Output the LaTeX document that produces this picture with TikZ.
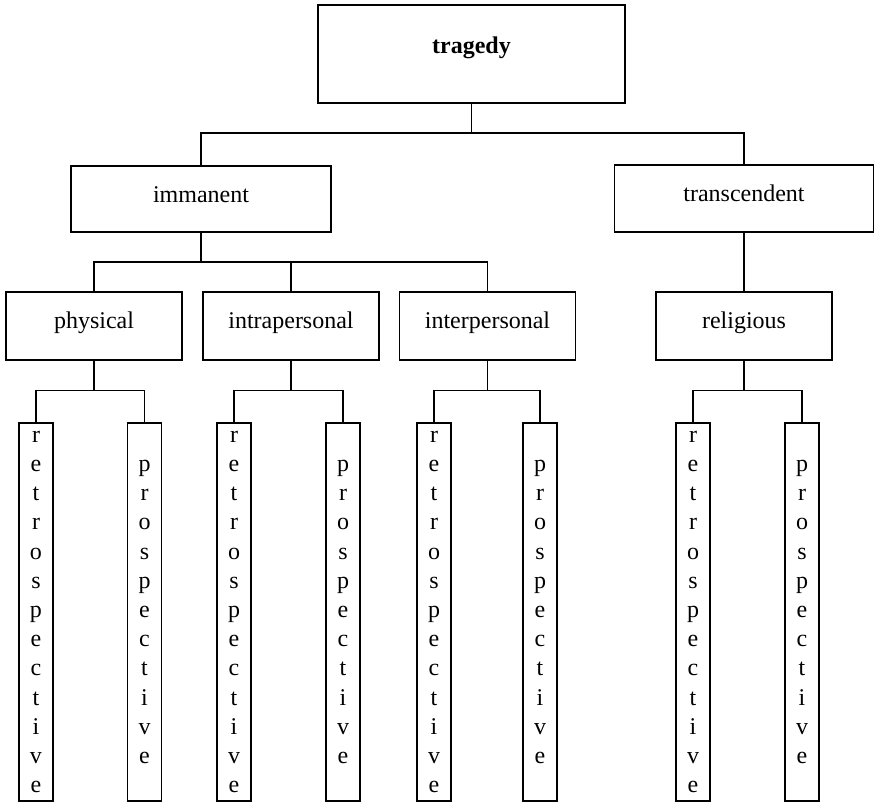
\documentclass[tikz,border=0pt]{standalone}
\usepackage{fontspec}
\setmainfont{Liberation Serif}
\newcommand{\retrospective}{r\\e\\t\\r\\o\\s\\p\\e\\c\\t\\i\\v\\e}
\newcommand{\prospective}{p\\r\\o\\s\\p\\e\\c\\t\\i\\v\\e}
\tikzset{
  catbox/.style={draw, rectangle, minimum width=88pt, minimum height=34pt,
    inner sep=0pt, text height=6pt, text depth=4pt,
    font=\fontsize{12}{14.6}\selectfont},
  wordbox/.style={draw, rectangle, minimum width=17pt, minimum height=189pt,
    inner sep=0pt, align=center, font=\fontsize{12}{14.6}\selectfont},
}
\begin{document}
\begin{tikzpicture}[x=0.5pt, y=-0.5pt, line width=0.55pt]
  \useasboundingbox (0,0) rectangle (879,803);
  % top levels
  \node[catbox, minimum width=153.5pt, minimum height=49pt, text height=5pt, text depth=5pt,
    font=\bfseries\fontsize{12}{14.6}\selectfont] (tragedy) at (471.5,54) {tragedy};
  \node[catbox, minimum width=130pt, minimum height=33pt, text height=6.5pt, text depth=3.5pt] (immanent) at (201,199) {immanent};
  \node[catbox, minimum width=129.5pt, minimum height=33.5pt, text height=6.5pt, text depth=3.5pt] (transcendent) at (744,198.5) {transcendent};
  \node[catbox] (physical) at (94,326) {physical};
  \node[catbox] (intrapersonal) at (291,326) {intrapersonal};
  \node[catbox] (interpersonal) at (487.5,326) {interpersonal};
  \node[catbox] (religious) at (744,326) {religious};
  % stacked words
  \node[wordbox] (physical-retro) at (36,612) {\retrospective};
  \node[wordbox] (physical-pro) at (144.5,612) {\prospective};
  \node[wordbox] (intrapersonal-retro) at (234,612) {\retrospective};
  \node[wordbox] (intrapersonal-pro) at (343,612) {\prospective};
  \node[wordbox] (interpersonal-retro) at (434,612) {\retrospective};
  \node[wordbox] (interpersonal-pro) at (540,612) {\prospective};
  \node[wordbox] (religious-retro) at (693,612) {\retrospective};
  \node[wordbox] (religious-pro) at (802,612) {\prospective};
  % connectors
  \coordinate (tragedy-bar) at (471.5,133);
  \coordinate (immanent-bar) at (201,262);
  \draw (tragedy.south) -- (tragedy-bar);
  \draw (immanent.north) |- (tragedy-bar) -| (transcendent.north);
  \draw (immanent.south) -- (immanent-bar);
  \draw (physical.north) |- (immanent-bar) -| (interpersonal.north);
  \draw (intrapersonal.north) -- (intrapersonal.north |- immanent-bar);
  \draw (transcendent.south) -- (religious.north);
  \begin{scope}[-]
    \path (physical.south) ++(0,30) coordinate (physical-bar);
    \path (intrapersonal.south) ++(0,30) coordinate (intrapersonal-bar);
    \path (interpersonal.south) ++(0,30) coordinate (interpersonal-bar);
    \path (religious.south) ++(0,30) coordinate (religious-bar);
    \draw (physical.south) -- (physical-bar);
    \draw (physical-retro.north) |- (physical-bar) -| (physical-pro.north);
    \draw (intrapersonal.south) -- (intrapersonal-bar);
    \draw (intrapersonal-retro.north) |- (intrapersonal-bar) -| (intrapersonal-pro.north);
    \draw (interpersonal.south) -- (interpersonal-bar);
    \draw (interpersonal-retro.north) |- (interpersonal-bar) -| (interpersonal-pro.north);
    \draw (religious.south) -- (religious-bar);
    \draw (religious-retro.north) |- (religious-bar) -| (religious-pro.north);
  \end{scope}
\end{tikzpicture}
\end{document}
